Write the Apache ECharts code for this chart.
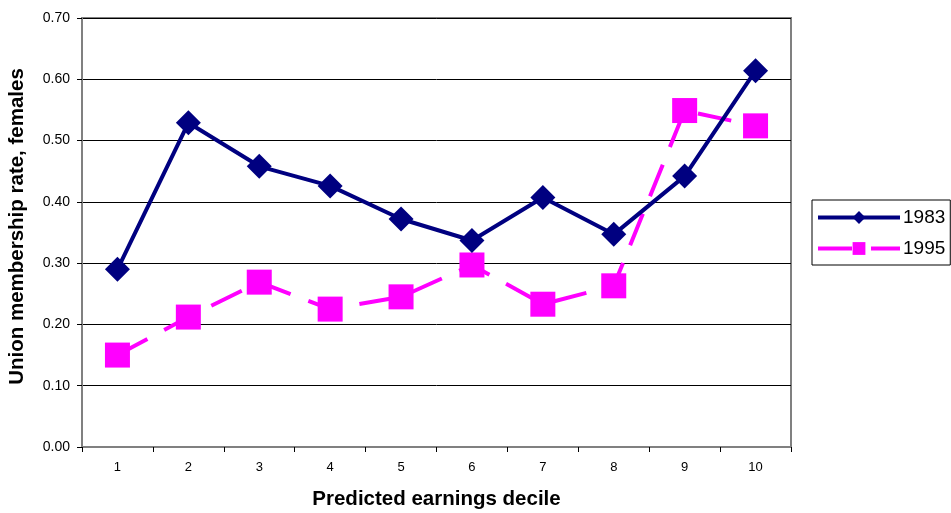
<!DOCTYPE html>
<html>
<head>
<meta charset="utf-8">
<script src="https://cdn.jsdelivr.net/npm/echarts@6/dist/echarts.min.js"></script>
<style>html,body{margin:0;padding:0;background:#fff;}#c{width:951px;height:513px;}</style>
</head>
<body>
<div id="c"></div>
<script>
const categories = ['1','2','3','4','5','6','7','8','9','10'];
const values1983 = [0.290, 0.529, 0.458, 0.426, 0.372, 0.337, 0.407, 0.347, 0.442, 0.614];
const values1995 = [0.150, 0.212, 0.269, 0.225, 0.245, 0.297, 0.233, 0.263, 0.549, 0.524];
const yTicks = [0, 0.1, 0.2, 0.3, 0.4, 0.5, 0.6, 0.7];

const chart = echarts.init(document.getElementById('c'));
const font = 'Liberation Sans, Arial, sans-serif';
chart.setOption({
  animation: false,
  backgroundColor: '#fff',
  grid: {left: 82, right: 160, top: 18, bottom: 66, containLabel: false, outerBoundsMode: 'none',
    show: true, borderColor: '#808080', borderWidth: 2, backgroundColor: 'transparent'},
  legend: {
    orient: 'vertical', left: 812, top: 200,
    padding: [8, 5, 7, 4],
    borderColor: '#000', borderWidth: 1,
    itemWidth: 82, itemHeight: 16, itemGap: 12,
    textStyle: {fontFamily: font, fontSize: 19, color: '#000', padding: [0,0,0,-2]},
    lineStyle: {width: 4},
    data: ['1983', '1995']
  },
  xAxis: {
    type: 'category', data: categories, boundaryGap: true,
    name: 'Predicted earnings decile', nameLocation: 'middle', nameGap: 42,
    nameTextStyle: {fontFamily: font, fontSize: 20.5, fontWeight: 'bold', color: '#000'},
    axisLine: {lineStyle: {color: '#808080', width: 2}},
    axisTick: {show: true, length: 5, lineStyle: {color: '#000', width: 1}},
    axisLabel: {fontFamily: font, fontSize: 13, color: '#000', margin: 14},
    splitLine: {show: false}
  },
  yAxis: {
    type: 'value', min: 0, max: 0.7, interval: 0.1,
    name: 'Union membership rate, females', nameLocation: 'middle', nameGap: 54,
    nameTextStyle: {fontFamily: font, fontSize: 20.5, fontWeight: 'bold', color: '#000', padding: [0, 0, 0, 12]},
    axisLine: {show: true, lineStyle: {color: '#808080', width: 2}},
    axisTick: {show: true, length: 5, lineStyle: {color: '#000', width: 1}},
    axisLabel: {fontFamily: font, fontSize: 14, color: '#000', margin: 12,
      formatter: v => { const t = yTicks.find(x => Math.abs(x - v) < 1e-9); return (t !== undefined ? t : v).toFixed(2); }},
    splitLine: {show: true, lineStyle: {color: '#000', width: 1}}
  },
  series: [
    {
      name: '1983', type: 'line', data: values1983,
      symbol: 'diamond', symbolSize: 25,
      lineStyle: {color: '#000080', width: 4},
      itemStyle: {color: '#000080'},
      z: 3
    },
    {
      name: '1995', type: 'line', data: values1995,
      symbol: 'rect', symbolSize: 25,
      lineStyle: {color: '#FF00FF', width: 4, type: [34, 19]},
      itemStyle: {color: '#FF00FF'},
      z: 2
    }
  ]
});
</script>
</body>
</html>
